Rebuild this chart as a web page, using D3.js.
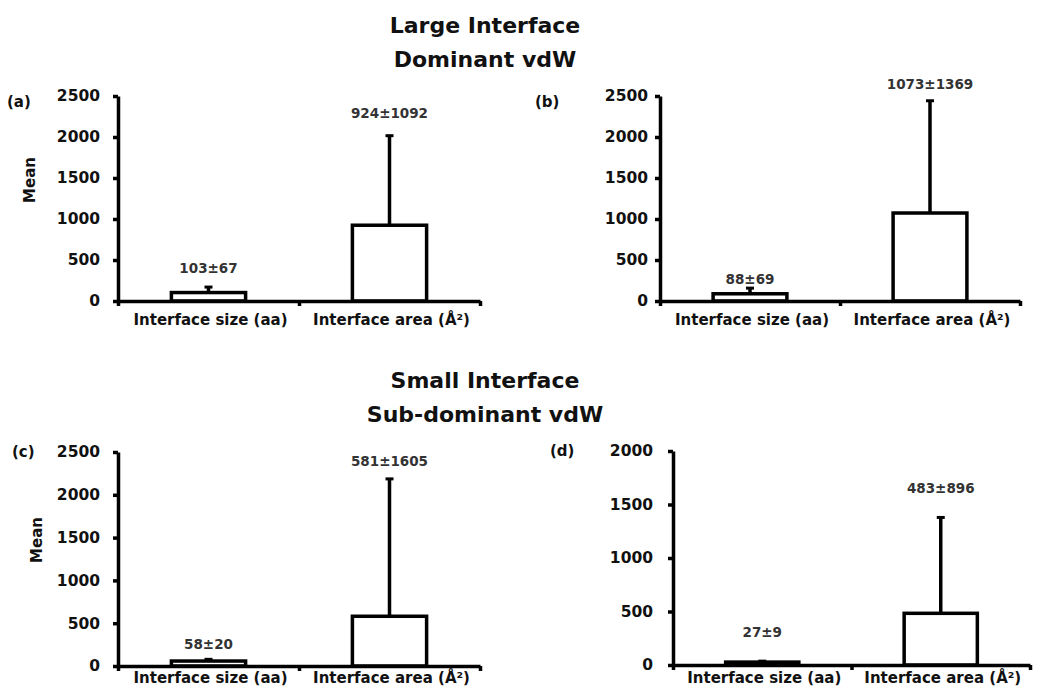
<!DOCTYPE html>
<html>
<head>
<meta charset="utf-8">
<script src="https://cdn.jsdelivr.net/npm/d3@7"></script>
<style>
    body { margin: 0; background: #fff; }
    svg { display: block; }
</style>
</head>
<body>
<div id="chart"></div>
<script>
// Data
const categories = ['Interface size (aa)', 'Interface area (Å²)'];
const panelNames = ['(a)', '(b)', '(c)', '(d)'];
const meansA = [103, 924];
const sdsA = [67, 1092];
const meansB = [88, 1073];
const sdsB = [69, 1369];
const meansC = [58, 581];
const sdsC = [20, 1605];
const meansD = [27, 483];
const sdsD = [9, 896];
const yMaxes = [2500, 2500, 2500, 2000];
const yTickStep = 500;
const groupTitles = [
    ['Large Interface', 'Dominant vdW'],
    ['Small Interface', 'Sub-dominant vdW']
];

const width = 1038;
const height = 688;

// Panel layout (pixels)
const panels = [
    { name: panelNames[0], means: meansA, sds: sdsA, yMax: yMaxes[0], x0: 118, x1: 480, yTop: 96, yZero: 301, tickPad: 13, labelX: 7, labelY: 102, meanLabel: [30, 180], gaps: [14, 18], catDy: 24 },
    { name: panelNames[1], means: meansB, sds: sdsB, yMax: yMaxes[1], x0: 660, x1: 1020, yTop: 96, yZero: 301, tickPad: 7, labelX: 535, labelY: 102, meanLabel: null, gaps: [4, 12], catDy: 24 },
    { name: panelNames[2], means: meansC, sds: sdsC, yMax: yMaxes[2], x0: 118, x1: 480, yTop: 452, yZero: 666, tickPad: 13, labelX: 12, labelY: 452, meanLabel: [37, 540], gaps: [10, 13], catDy: 17 },
    { name: panelNames[3], means: meansD, sds: sdsD, yMax: yMaxes[3], x0: 673, x1: 1030, yTop: 451, yZero: 665, tickPad: 15, labelX: 550, labelY: 451, meanLabel: null, gaps: [24, 24], catDy: 18 }
];

const boldFont = '"DejaVu Sans", Verdana, sans-serif';
const lineW = 3.5;

const svg = d3.select('#chart')
    .append('svg')
    .attr('width', width)
    .attr('height', height)
    .style('background', '#fff');

// Group titles
const titleY = [[33, 67], [388, 422]];
groupTitles.forEach((lines, i) => {
    lines.forEach((t, j) => {
        svg.append('text')
            .attr('x', 485)
            .attr('y', titleY[i][j])
            .attr('text-anchor', 'middle')
            .style('font-family', boldFont)
            .style('font-weight', 'bold')
            .style('font-size', '22px')
            .style('fill', '#111')
            .text(t);
    });
});

panels.forEach(p => {
    const g = svg.append('g');

    const y = d3.scaleLinear()
        .domain([0, p.yMax])
        .range([p.yZero, p.yTop]);

    const x = d3.scaleBand()
        .domain(categories)
        .range([p.x0, p.x1])
        .paddingInner(0)
        .paddingOuter(0);

    const barW = x.bandwidth() * 0.41;

    // Bars
    g.selectAll('rect.bar')
        .data(categories)
        .enter()
        .append('rect')
        .attr('class', 'bar')
        .attr('x', (d) => x(d) + x.bandwidth() / 2 - barW / 2)
        .attr('y', (d, i) => y(p.means[i]))
        .attr('width', barW)
        .attr('height', (d, i) => y(0) - y(p.means[i]))
        .attr('fill', '#fff')
        .attr('stroke', '#000')
        .attr('stroke-width', lineW);

    // Error bars (upper only)
    g.selectAll('line.err')
        .data(categories)
        .enter()
        .append('line')
        .attr('class', 'err')
        .attr('x1', (d) => x(d) + x.bandwidth() / 2)
        .attr('x2', (d) => x(d) + x.bandwidth() / 2)
        .attr('y1', (d, i) => y(p.means[i]))
        .attr('y2', (d, i) => y(p.means[i] + p.sds[i]))
        .attr('stroke', '#000')
        .attr('stroke-width', lineW);

    g.selectAll('line.cap')
        .data(categories)
        .enter()
        .append('line')
        .attr('class', 'cap')
        .attr('x1', (d) => x(d) + x.bandwidth() / 2 - 4)
        .attr('x2', (d) => x(d) + x.bandwidth() / 2 + 4)
        .attr('y1', (d, i) => y(p.means[i] + p.sds[i]))
        .attr('y2', (d, i) => y(p.means[i] + p.sds[i]))
        .attr('stroke', '#000')
        .attr('stroke-width', 3);

    // Value labels
    g.selectAll('text.val')
        .data(categories)
        .enter()
        .append('text')
        .attr('class', 'val')
        .attr('x', (d) => x(d) + x.bandwidth() / 2)
        .attr('y', (d, i) => y(p.means[i] + p.sds[i]) - p.gaps[i])
        .attr('text-anchor', 'middle')
        .style('font-family', boldFont)
        .style('font-weight', 'bold')
        .style('font-size', '13.5px')
        .style('fill', '#333')
        .text((d, i) => p.means[i] + '±' + p.sds[i]);

    // Y axis
    const yAxis = g.append('g')
        .attr('transform', `translate(${p.x0},0)`)
        .call(d3.axisLeft(y)
            .tickValues(d3.range(0, p.yMax + 1, yTickStep))
            .tickFormat(d3.format('d'))
            .tickSize(5)
            .tickSizeOuter(0)
            .tickPadding(p.tickPad));

    // X axis with ticks on category boundaries
    const xb = d3.scaleLinear().domain([0, categories.length]).range([p.x0, p.x1]);
    const xAxis = g.append('g')
        .attr('transform', `translate(0,${p.yZero})`)
        .call(d3.axisBottom(xb)
            .tickValues(d3.range(0, categories.length + 1))
            .tickSize(5)
            .tickSizeOuter(0)
            .tickFormat(''));

    [yAxis, xAxis].forEach(ax => {
        ax.select('.domain').attr('stroke', '#000').attr('stroke-width', lineW);
        ax.selectAll('.tick line').attr('stroke', '#000').attr('stroke-width', lineW);
        ax.selectAll('.tick text')
            .style('font-family', boldFont)
            .style('font-weight', 'bold')
            .style('font-size', '15.5px')
            .style('fill', '#111');
    });

    // Category labels
    g.selectAll('text.cat')
        .data(categories)
        .enter()
        .append('text')
        .attr('class', 'cat')
        .attr('x', (d) => x(d) + x.bandwidth() / 2 + 2)
        .attr('y', p.yZero + p.catDy)
        .attr('text-anchor', 'middle')
        .style('font-family', boldFont)
        .style('font-weight', 'bold')
        .style('font-size', '15px')
        .style('fill', '#111')
        .text(d => d);

    // Panel letter
    g.append('text')
        .attr('x', p.labelX)
        .attr('y', p.labelY)
        .attr('dy', '0.35em')
        .style('font-family', boldFont)
        .style('font-weight', 'bold')
        .style('font-size', '15px')
        .style('fill', '#111')
        .text(p.name);

    // Y axis title
    if (p.meanLabel) {
        g.append('text')
            .attr('transform', `translate(${p.meanLabel[0]},${p.meanLabel[1]}) rotate(-90)`)
            .attr('text-anchor', 'middle')
            .attr('dy', '0.35em')
            .style('font-family', boldFont)
            .style('font-weight', 'bold')
            .style('font-size', '15px')
            .style('fill', '#111')
            .text('Mean');
    }
});
</script>
</body>
</html>
